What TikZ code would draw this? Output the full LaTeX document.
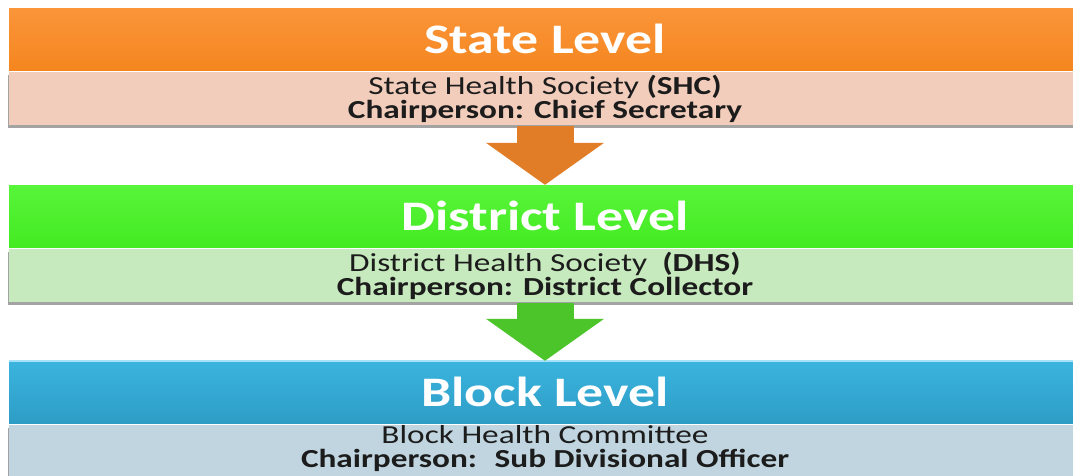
\documentclass[tikz,border=0pt]{standalone}
\usepackage{fontspec}
\setmainfont{Carlito}[FakeStretch=1.28]
\usetikzlibrary{positioning, arrows.meta, shadows}
\usepackage{xcolor}
\definecolor{statetop}{HTML}{FA953A}
\definecolor{statebot}{HTML}{F5861F}
\definecolor{statebg}{HTML}{F2CDBB}
\definecolor{statearr}{HTML}{E27D27}
\definecolor{disttop}{HTML}{58F53A}
\definecolor{distbot}{HTML}{44EA22}
\definecolor{distbg}{HTML}{C6E9BD}
\definecolor{distarr}{HTML}{4CC52B}
\definecolor{blocktop}{HTML}{3AB4DE}
\definecolor{blockbot}{HTML}{2E9DC6}
\definecolor{blockbg}{HTML}{C0D5DF}
\definecolor{bodytext}{HTML}{1C1C1C}
\tikzset{
    levelhead/.style={
        rectangle, minimum width=1072pt, minimum height=62pt, inner sep=0pt,
        text=white, font=\fontsize{42}{44}\selectfont\bfseries
    },
    levelbody/.style={
        rectangle, minimum width=1072pt, minimum height=53pt, inner sep=0pt,
        align=center, text=bodytext, font=\fontsize{26}{24}\selectfont,
        drop shadow={shadow xshift=-1pt, shadow yshift=-3pt, fill=black!60, opacity=0.6}
    },
    levelarrow/.style={
        line width=57pt, -{Triangle[width=116pt, length=42pt]}
    }
}

\begin{document}
\begin{tikzpicture}[x=1pt, y=-1pt, node distance=2pt]

    \useasboundingbox[fill=white] (0,0) rectangle (1073,475);

    % state
    \node[levelhead, top color=statetop, bottom color=statebot] (statehead) at (545,39) {State Level};
    \node[levelbody, fill=statebg, below=of statehead] (statebody)
        {State Health Society \textbf{(SHC)}\\ \textbf{Chairperson: Chief Secretary}};

    % district
    \node[levelhead, top color=disttop, bottom color=distbot] (disthead) at (545,216) {District Level};
    \node[levelbody, fill=distbg, below=of disthead] (distbody)
        {District Health Society \ \textbf{(DHS)}\\ \textbf{Chairperson: District Collector}};

    % block (text lifted a little, band runs off the bottom)
    \node[levelhead, top color=blocktop, bottom color=blockbot] (blockhead) at (545,392) {Block Level};
    \draw[cyan!35, line width=2pt] (blockhead.north west) -- (blockhead.north east);
    \node[levelbody, fill=blockbg, text depth=11pt, below=of blockhead] (blockbody)
        {Block Health Committee\\ \textbf{Chairperson: \ Sub Divisional Officer}};

    \draw[levelarrow, statearr] (statebody.south) -- (disthead.north);
    \draw[levelarrow, distarr]  (distbody.south)  -- (blockhead.north);

\end{tikzpicture}
\end{document}
